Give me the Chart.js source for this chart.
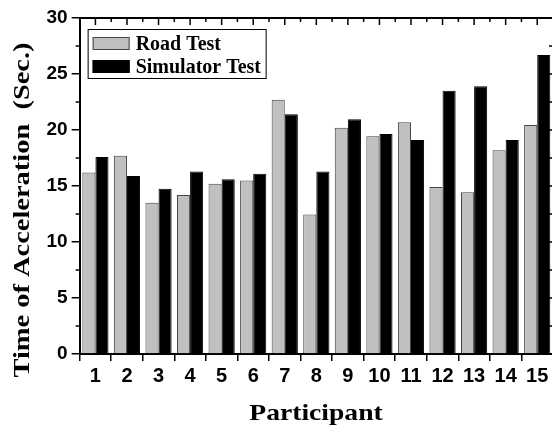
<!DOCTYPE html>
<html>
<head>
<meta charset="utf-8">
<script src="https://cdn.jsdelivr.net/npm/chart.js@4"></script>
<style>
  html, body { margin: 0; padding: 0; background: #fff; overflow: hidden; }
  #wrap { position: relative; width: 556px; height: 427px; }
</style>
</head>
<body>
<div id="wrap"><canvas id="myChart"></canvas></div>
<script>
const participants = ['1', '2', '3', '4', '5', '6', '7', '8', '9', '10', '11', '12', '13', '14', '15']
const roadTest = [16.2, 17.7, 13.5, 14.2, 15.2, 15.5, 22.7, 12.45, 20.2, 19.45, 20.7, 14.9, 14.45, 18.2, 20.45]
const simulatorTest = [17.6, 15.9, 14.75, 16.3, 15.6, 16.1, 21.4, 16.3, 20.95, 19.65, 19.1, 23.5, 23.9, 19.1, 26.7]
const seriesNames = ['Road Test', 'Simulator Test']
const xTitle = 'Participant'
const yTitle = 'Time of Acceleration  (Sec.)'

// top + right frame, inward ticks, minor ticks, axis titles and the boxed legend
const framePlugin = {
  id: 'frame',
  afterDraw(chart) {
    const { ctx, chartArea: a, scales: { x, y } } = chart
    const line = (x1, y1, x2, y2) => { ctx.beginPath(); ctx.moveTo(x1, y1); ctx.lineTo(x2, y2); ctx.stroke() }
    ctx.save()
    ctx.strokeStyle = '#000'
    ctx.lineWidth = 2
    ctx.beginPath()
    ctx.moveTo(a.left, a.top); ctx.lineTo(a.right, a.top); ctx.lineTo(a.right, a.bottom)
    ctx.stroke()

    ctx.lineWidth = 1.5
    const half = (x.getPixelForValue(1) - x.getPixelForValue(0)) / 2
    participants.forEach((p, i) => {
      const px = x.getPixelForValue(i)
      line(px, a.top, px, a.top + 7)
      line(px + half, a.top, px + half, a.top + 4)
    })
    for (let v = 0; v <= 30; v += 2.5) {
      const py = y.getPixelForValue(v)
      const major = v % 5 === 0
      if (!major) line(a.left - 4, py, a.left, py)
      line(a.right - (major ? 7 : 4), py, a.right, py)
    }

    // axis titles (slightly stretched serif, like the original figure)
    ctx.fillStyle = '#000'
    ctx.font = 'bold 24px "Liberation Serif"'
    ctx.textAlign = 'center'
    ctx.textBaseline = 'alphabetic'
    ctx.save()
    ctx.translate(316, 420)
    ctx.scale(1.15, 1)
    ctx.fillText(xTitle, 0, 0)
    ctx.restore()
    ctx.save()
    ctx.translate(28.7, 210)
    ctx.rotate(-Math.PI / 2)
    ctx.scale(1.185, 1)
    ctx.fillText(yTitle, 0, 0)
    ctx.restore()

    // legend
    const lx = a.left + 8, ly = a.top + 11
    ctx.textAlign = 'left'
    ctx.lineWidth = 1
    ctx.strokeStyle = '#000'
    ctx.strokeRect(lx + 0.5, ly + 0.5, 178, 49)
    ctx.font = 'bold 20px "Liberation Serif"'
    ctx.textBaseline = 'middle'
    chart.data.datasets.forEach((ds, i) => {
      const sy = ly + 8 + i * 23
      ctx.fillStyle = ds.backgroundColor
      ctx.fillRect(lx + 5, sy, 37, 13)
      ctx.strokeStyle = ds.borderColor
      ctx.strokeRect(lx + 5.5, sy + 0.5, 36, 12)
      ctx.fillStyle = '#000'
      ctx.fillText(ds.label, lx + 48, sy + 7.5)
    })
    ctx.restore()
  }
}

const ctx = document.getElementById('myChart')
new Chart(ctx, {
  type: 'bar',
  data: {
    labels: participants,
    datasets: [
      { label: seriesNames[0], data: roadTest, backgroundColor: '#c0c0c0', borderColor: '#444', borderWidth: 1 },
      { label: seriesNames[1], data: simulatorTest, backgroundColor: '#000', borderColor: '#000', borderWidth: 1 }
    ]
  },
  options: {
    responsive: true,
    maintainAspectRatio: false,
    animation: false,
    layout: { padding: { top: 18, right: 3, bottom: 36, left: 42.5 } },
    datasets: { bar: { categoryPercentage: 0.83, barPercentage: 1.0 } },
    plugins: {
      legend: { display: false },
      tooltip: { enabled: false }
    },
    scales: {
      x: {
        grid: { drawOnChartArea: false, tickLength: 7, color: '#000', lineWidth: 1.5 },
        border: { color: '#000', width: 2 },
        ticks: { color: '#000', font: { family: 'Liberation Sans', size: 20, weight: 'bold', lineHeight: 1 }, padding: 5, maxRotation: 0, autoSkip: false }
      },
      y: {
        min: 0,
        max: 30,
        grid: { drawOnChartArea: false, tickLength: 8, color: '#000', lineWidth: 1.5 },
        border: { color: '#000', width: 2 },
        ticks: { stepSize: 5, color: '#000', font: { family: 'Liberation Sans', size: 19, weight: 'bold' }, padding: 4 }
      }
    }
  },
  plugins: [framePlugin]
})
</script>
</body>
</html>
